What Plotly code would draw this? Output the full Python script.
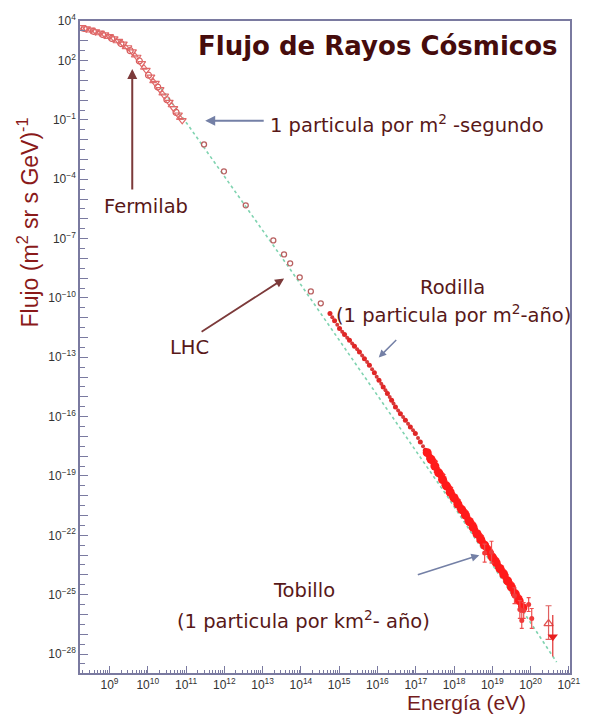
import plotly.graph_objects as go

# ---- data (log10 of energy in eV, log10 of flux) ----
# low-energy direct measurements
low_a_logE = [8.28, 8.40, 8.52, 8.64, 8.76, 8.88, 9.00, 9.12, 9.24, 9.36, 9.48, 9.60,
              9.72, 9.84, 9.96, 10.08, 10.20, 10.32, 10.44, 10.56, 10.68, 10.80, 10.90]
low_a_logF = [3.68, 3.62, 3.55, 3.47, 3.40, 3.31, 3.22, 3.11, 2.98, 2.84, 2.66, 2.45,
              2.18, 1.86, 1.52, 1.18, 0.86, 0.54, 0.22, -0.10, -0.42, -0.74, -1.02]
low_b_logE = [8.34, 8.58, 8.82, 9.06, 9.30, 9.54, 9.78, 10.02, 10.26, 10.50, 10.74]
low_b_logF = [3.62, 3.48, 3.32, 3.12, 2.86, 2.50, 1.98, 1.26, 0.66, 0.02, -0.62]
low_c_logE = [8.46, 8.70, 8.94, 9.18, 9.42, 9.66, 9.90, 10.14, 10.38, 10.62, 10.84]
low_c_logF = [3.52, 3.38, 3.20, 2.98, 2.68, 2.26, 1.64, 0.96, 0.34, -0.26, -0.90]

# sparse points up to the knee
mid_logE = [11.47, 11.99, 12.56, 13.28, 13.56, 13.72, 13.97, 14.26, 14.52]
mid_logF = [-2.24, -3.60, -5.32, -7.09, -7.80, -8.25, -8.96, -9.67, -10.27]

# knee region (air-shower arrays)
knee_a_logE = [14.76, 14.88, 15.01, 15.14, 15.27, 15.40, 15.53, 15.66, 15.79, 15.92, 16.04,
               16.15, 16.26, 16.37, 16.47, 16.60, 16.73, 16.86, 16.99, 17.12, 17.25, 17.38,
               17.50, 17.63, 17.76]
knee_a_logF = [-10.79, -11.15, -11.55, -11.85, -12.14, -12.44, -12.73, -13.07, -13.40, -13.78,
               -14.16, -14.50, -14.83, -15.17, -15.51, -15.85, -16.18, -16.52, -16.85, -17.28,
               -17.70, -18.12, -18.54, -18.96, -19.38]
knee_b_logE = [14.82, 14.95, 15.08, 15.21, 15.34, 15.47, 15.60, 15.73, 15.86, 15.98, 16.10,
               16.21, 16.32, 16.42, 16.54, 16.67, 16.80, 16.93, 17.06, 17.19, 17.32, 17.44,
               17.57, 17.70]
knee_b_logF = [-10.98, -11.36, -11.71, -12.01, -12.30, -12.59, -12.91, -13.24, -13.60, -13.98,
               -14.34, -14.67, -15.01, -15.34, -15.69, -16.02, -16.36, -16.69, -17.08, -17.50,
               -17.92, -18.33, -18.76, -19.18]

# ankle region, several experiments
uhe_a_logE = [17.30, 17.40, 17.50, 17.60, 17.70, 17.80, 17.90, 18.00, 18.10, 18.20, 18.30,
              18.40, 18.50, 18.60, 18.70, 18.80, 18.90, 19.00, 19.10, 19.20, 19.30, 19.40,
              19.50, 19.60, 19.70, 19.80]
uhe_a_logF = [-17.82, -18.16, -18.50, -18.84, -19.18, -19.50, -19.82, -20.10, -20.42, -20.70,
              -20.98, -21.30, -21.60, -21.92, -22.22, -22.50, -22.80, -23.10, -23.38, -23.68,
              -23.98, -24.30, -24.62, -24.96, -25.30, -25.66]
uhe_b_logE = [17.35, 17.55, 17.75, 17.95, 18.15, 18.35, 18.55, 18.75, 18.95, 19.15, 19.35,
              19.55, 19.75]
uhe_b_logF = [-18.02, -18.70, -19.36, -19.98, -20.58, -21.16, -21.78, -22.38, -22.96, -23.56,
              -24.12, -24.80, -25.50]
uhe_b_err = [0.05, 0.05, 0.05, 0.06, 0.06, 0.08, 0.10, 0.12, 0.15, 0.20, 0.25, 0.30, 0.35]
uhe_d_logE = [17.45, 17.65, 17.85, 18.05, 18.25, 18.45, 18.65, 18.85, 19.05, 19.25, 19.45,
              19.65]
uhe_d_logF = [-18.26, -18.94, -19.60, -20.22, -20.80, -21.40, -22.02, -22.62, -23.20, -23.80,
              -24.44, -25.10]
uhe_c_logE = [18.80, 18.98, 19.58, 19.72, 19.77, 19.82, 19.95, 20.03]
uhe_c_logF = [-22.90, -22.85, -25.05, -25.75, -26.30, -25.80, -25.50, -26.20]
uhe_c_err = [0.45, 0.55, 0.40, 0.45, 0.40, 0.40, 0.35, 0.50]

# highest-energy points
top_up_logE, top_up_logF, top_up_eu, top_up_ed = [20.47], [-26.46], [0.90], [0.80]
top_dn_logE, top_dn_logF, top_dn_eu, top_dn_ed = [20.58], [-27.13], [1.10], [1.00]

# reference power law
fit_logE = [10.35, 11.06, 13.72, 17.84, 20.68]
fit_logF = [0.60, -1.28, -8.55, -20.07, -28.41]

# axis labels
x_decades = list(range(9, 22))
y_labeled = [4, 2, -1, -4, -7, -10, -13, -16, -19, -22, -25, -28]


def lin(v):
    return [10 ** a for a in v]


def errs(logF, up, down):
    plus = [10 ** f * (10 ** u - 1) for f, u in zip(logF, up)]
    minus = [10 ** f * (1 - 10 ** -d) for f, d in zip(logF, down)]
    return plus, minus


fig = go.Figure()

fig.add_trace(go.Scatter(x=lin(fit_logE), y=lin(fit_logF), mode="lines",
                         line=dict(color="#7fd3b0", width=1.6, dash="dot")))

fig.add_trace(go.Scatter(x=lin(low_b_logE), y=lin(low_b_logF), mode="markers",
                         marker=dict(symbol="circle-open", size=6, color="#d65a5a",
                                     line=dict(width=1.2))))
fig.add_trace(go.Scatter(x=lin(low_c_logE), y=lin(low_c_logF), mode="markers",
                         marker=dict(symbol="triangle-up-open", size=6, color="#e07070",
                                     line=dict(width=1.1))))
fig.add_trace(go.Scatter(x=lin(low_a_logE), y=lin(low_a_logF), mode="markers",
                         marker=dict(symbol="triangle-down-open", size=7, color="#e06868",
                                     line=dict(width=1.2))))
fig.add_trace(go.Scatter(x=lin(mid_logE), y=lin(mid_logF), mode="markers",
                         marker=dict(symbol="circle-open", size=5, color="#b86060",
                                     line=dict(width=1.3))))
fig.add_trace(go.Scatter(x=lin(knee_b_logE), y=lin(knee_b_logF), mode="markers",
                         marker=dict(symbol="circle", size=4, color="#d83a3a")))
fig.add_trace(go.Scatter(x=lin(knee_a_logE), y=lin(knee_a_logF), mode="markers",
                         marker=dict(symbol="circle", size=5, color="#e02626")))

bp, bm = errs(uhe_b_logF, uhe_b_err, uhe_b_err)
fig.add_trace(go.Scatter(x=lin(uhe_b_logE), y=lin(uhe_b_logF), mode="markers",
                         marker=dict(symbol="square", size=6, color="#f03030"),
                         error_y=dict(type="data", array=bp, arrayminus=bm,
                                      color="#f04040", thickness=1.2, width=0)))
fig.add_trace(go.Scatter(x=lin(uhe_d_logE), y=lin(uhe_d_logF), mode="markers",
                         marker=dict(symbol="diamond", size=8, color="#ff2a2a")))
fig.add_trace(go.Scatter(x=lin(uhe_a_logE), y=lin(uhe_a_logF), mode="markers",
                         marker=dict(symbol="circle", size=9, color="#ff1a1a")))
cp, cm = errs(uhe_c_logF, uhe_c_err, uhe_c_err)
fig.add_trace(go.Scatter(x=lin(uhe_c_logE), y=lin(uhe_c_logF), mode="markers",
                         marker=dict(symbol="circle", size=5, color="#f03a3a"),
                         error_y=dict(type="data", array=cp, arrayminus=cm,
                                      color="#ee5050", thickness=1.2, width=2)))
up_p, up_m = errs(top_up_logF, top_up_eu, top_up_ed)
fig.add_trace(go.Scatter(x=lin(top_up_logE), y=lin(top_up_logF), mode="markers",
                         marker=dict(symbol="triangle-up-open", size=8, color="#e05050",
                                     line=dict(width=1.3)),
                         error_y=dict(type="data", array=up_p, arrayminus=up_m,
                                      color="#e06060", thickness=1.2, width=3)))
dn_p, dn_m = errs(top_dn_logF, top_dn_eu, top_dn_ed)
fig.add_trace(go.Scatter(x=lin(top_dn_logE), y=lin(top_dn_logF), mode="markers",
                         marker=dict(symbol="triangle-down", size=9, color="#e81e1e"),
                         error_y=dict(type="data", array=dn_p, arrayminus=dn_m,
                                      color="#e03030", thickness=1.2, width=0)))

# ---- page geometry (pixels) ----
W, H = 593, 715
L, R, T, B = 80, 577, 20, 673


def px(xp):
    return (xp - L) / (R - L)


def py(yp):
    return (B - yp) / (B - T)


axis_col = "#7a7aa0"
tick_font = dict(family="Liberation Sans, Arial", size=12, color="#333333")

x_minor = [k * 10.0 ** n for n in range(8, 21) for k in range(2, 10)]
fig.update_xaxes(
    type="log", range=[8.23, 21.03],
    tickvals=[10.0 ** d for d in x_decades],
    ticktext=[f"10<sup>{d}</sup>" for d in x_decades],
    ticks="inside", ticklen=7, tickwidth=1.2, tickcolor=axis_col,
    minor=dict(tickvals=x_minor, ticks="inside", ticklen=3, tickwidth=1, tickcolor=axis_col),
    showgrid=False, zeroline=False, showline=True, linecolor=axis_col, linewidth=1.5,
    mirror=True, tickfont=tick_font,
)

y_decades = list(range(-28, 5))
y_text = [(f"10<sup>{d}</sup>".replace("-", "\u2212") if d in y_labeled else "")
          for d in y_decades]
y_minor = [10 ** (d + 0.5) for d in range(-29, 4)]
fig.update_yaxes(
    type="log", range=[-28.96, 4.0],
    tickvals=[10.0 ** d for d in y_decades], ticktext=y_text,
    ticks="inside", ticklen=8, tickwidth=1.2, tickcolor=axis_col,
    minor=dict(tickvals=y_minor, ticks="inside", ticklen=5, tickwidth=1, tickcolor=axis_col),
    showgrid=False, zeroline=False, showline=True, linecolor=axis_col, linewidth=1.5,
    mirror=True, tickfont=tick_font,
)

txt_col = "#581818"
ann_font = dict(family="DejaVu Sans", size=19.5, color=txt_col)
blue_arrow = "#7480a6"
brown_arrow = "#7c3a3a"

annotations = [
    dict(text="<b>Flujo de Rayos Cósmicos</b>", x=px(382), y=py(45),
         font=dict(family="DejaVu Sans", size=26, color="#460c0c")),
    dict(text="Flujo (m<sup>2</sup> sr s GeV)<sup>-1</sup>", x=px(27), y=py(222), textangle=-90,
         font=dict(family="Liberation Sans, Arial", size=23, color="#8a1a1a")),
    dict(text="Energía (eV)", x=px(472), y=py(703),
         font=dict(family="Liberation Sans, Arial", size=21, color="#741c1c")),
    dict(text="1 particula por m<sup>2</sup> -segundo", x=px(271), y=py(123), xanchor="left",
         font=ann_font),
    dict(text="Fermilab", x=px(147), y=py(206), font=ann_font),
    dict(text="LHC", x=px(191), y=py(347), font=ann_font),
    dict(text="Rodilla", x=px(458), y=py(287), font=ann_font),
    dict(text="(1 particula por m<sup>2</sup>-año)", x=px(459), y=py(313), font=ann_font),
    dict(text="Tobillo", x=px(307), y=py(590), font=ann_font),
    dict(text="(1 particula por km<sup>2</sup>- año)", x=px(307), y=py(620), font=ann_font),
]
for a in annotations:
    a.update(xref="paper", yref="paper", showarrow=False, xanchor=a.get("xanchor", "center"),
             yanchor="middle")

# arrows: head position and tail offset in pixels
arrows = [
    ((207, 120), (60, 0), blue_arrow, 2.0),
    ((133, 68), (0, 122), brown_arrow, 2.0),
    ((287, 278), (-84, 54), brown_arrow, 1.8),
    ((383, 357), (19, -19), blue_arrow, 1.5),
    ((485, 555), (-63, 20), blue_arrow, 1.6),
]
for (hx, hy), (ax, ay), col, w in arrows:
    annotations.append(dict(x=px(hx), y=py(hy), xref="paper", yref="paper", text="",
                            showarrow=True, ax=ax, ay=ay, axref="pixel", ayref="pixel",
                            arrowhead=2, arrowsize=1, arrowwidth=w, arrowcolor=col))

fig.update_layout(
    width=W, height=H,
    margin=dict(l=L, r=W - R, t=T, b=H - B),
    paper_bgcolor="white", plot_bgcolor="white",
    showlegend=False, annotations=annotations,
)

fig.write_html("out.html")
